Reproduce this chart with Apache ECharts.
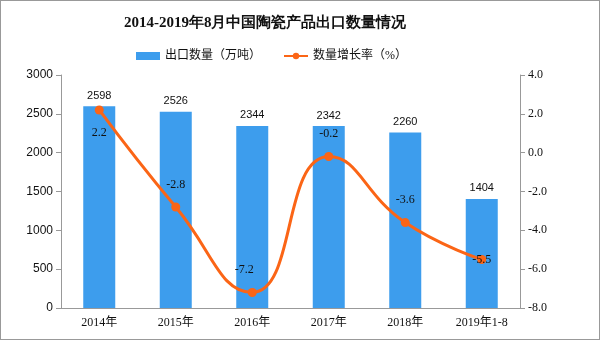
<!DOCTYPE html>
<html><head><meta charset="utf-8">
<script src="https://cdn.jsdelivr.net/npm/echarts@6/dist/echarts.min.js"></script>
<style>html,body{margin:0;padding:0;background:#fff}#c{width:600px;height:340px;box-sizing:border-box;border:1px solid #999}</style>
</head><body><div id="c"></div>
<script>
var categories = ['2014年','2015年','2016年','2017年','2018年','2019年1-8'];
var exportVolume = [2598, 2526, 2344, 2342, 2260, 1404];
var growthRate = [2.2, -2.8, -7.2, -0.2, -3.6, -5.5];
var leftTicks = [0, 3000, 500];
var rightTicks = [-8, 4, 2];

var chart = echarts.init(document.getElementById('c'));
var font = 'SimSun, "Liberation Serif", "Noto Sans CJK SC", serif';
chart.setOption({
  animation: false,
  title: {text: '2014-2019年8月中国陶瓷产品出口数量情况', left: 118, top: 10,
    textStyle: {fontSize: 15, fontWeight: 'bold', color: '#111', fontFamily: 'serif'}},
  legend: {top: 44, left: 130, itemGap: 22, itemWidth: 24, itemHeight: 8,
    textStyle: {fontSize: 12, color: '#111', fontFamily: font},
    data: [{name: '出口数量（万吨）', icon: 'rect'}, {name: '数量增长率（%）'}]},
  grid: {left: 60, right: 79, top: 74, bottom: 31},
  xAxis: {type: 'category', data: categories,
    axisLine: {lineStyle: {color: '#999'}}, axisTick: {lineStyle: {color: '#999'}},
    axisLabel: {color: '#111', fontSize: 12, fontFamily: font, margin: 9}},
  yAxis: [
    {type: 'value', min: leftTicks[0], max: leftTicks[1], interval: leftTicks[2],
      axisLine: {show: true, lineStyle: {color: '#999'}}, axisTick: {show: true, lineStyle: {color: '#999'}},
      splitLine: {show: false},
      axisLabel: {color: '#111', fontSize: 12, fontFamily: 'sans-serif', formatter: function(v){return String(v);}}},
    {type: 'value', min: rightTicks[0], max: rightTicks[1], interval: rightTicks[2],
      axisLine: {show: true, lineStyle: {color: '#999'}}, axisTick: {show: true, lineStyle: {color: '#999'}},
      splitLine: {show: false},
      axisLabel: {color: '#111', fontSize: 12, fontFamily: font, formatter: function(v){return v.toFixed(1);}}}
  ],
  series: [
    {name: '出口数量（万吨）', type: 'bar', data: exportVolume, barWidth: 32,
      itemStyle: {color: '#3d9ded'},
      label: {show: true, position: 'top', color: '#111', fontSize: 11, fontFamily: 'sans-serif'}},
    {name: '数量增长率（%）', type: 'line', yAxisIndex: 1, smooth: true,
      symbol: 'circle', symbolSize: 9,
      lineStyle: {color: '#fb6516', width: 3}, itemStyle: {color: '#fb6516'},
      label: {show: true, position: 'top', color: '#111', fontSize: 12, fontFamily: font, distance: 12},
      data: growthRate.map(function(v, i){
        var pos = i === 0 ? 'bottom' : (i === 5 ? 'inside' : 'top');
        var lbl = {position: pos};
        if (i === 2) lbl.offset = [-8, 0];
        return {value: v, label: lbl};
      })}
  ]
});
</script></body></html>
